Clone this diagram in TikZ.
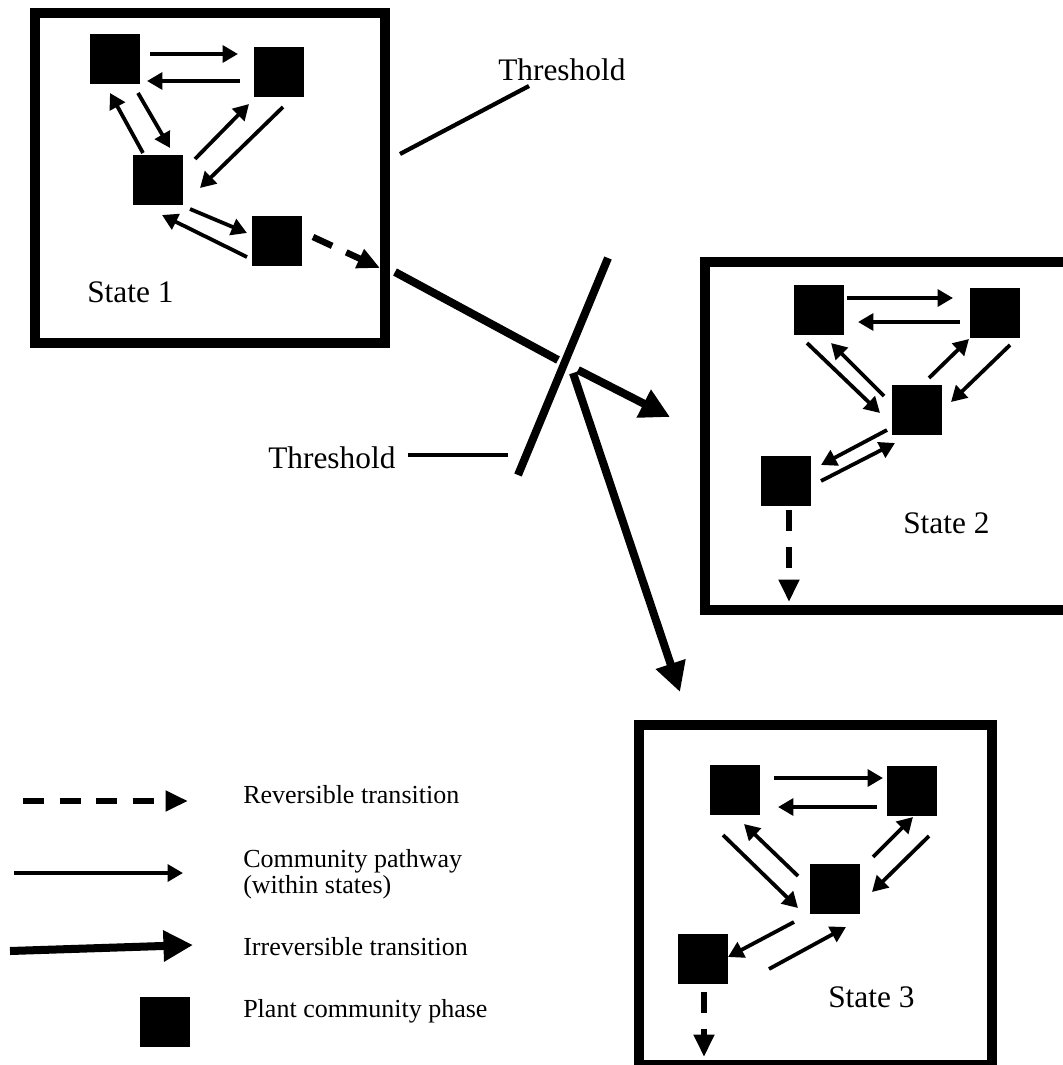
\documentclass[tikz,border=0pt]{standalone}
\usepackage{fontspec}
\setmainfont{Liberation Serif}
\usetikzlibrary{calc,arrows.meta}

\tikzset{
  phase/.style={draw=none,fill=black,minimum size=1.25cm,inner sep=0pt},
  statebox/.style={draw,line width=7.1pt,inner sep=0pt},
  statelabel/.style={inner sep=0pt,anchor=base west,font=\fontsize{22.3}{26}\selectfont},
  legtext/.style={inner sep=0pt,anchor=base west,font=\fontsize{18.5}{22}\selectfont},
  pathway/.style={line width=2.7pt,-{Triangle[length=11pt,width=12pt]}},
  revers/.style={line width=4.6pt,dash pattern=on 15pt off 11pt,-{Triangle[length=16pt,width=14pt]}},
  irrev/.style={line width=5.7pt,-{Triangle[length=21pt,width=21pt]}},
  thline/.style={line width=3pt},
}

\begin{document}
\begin{tikzpicture}[x=0.025cm,y=-0.025cm]
\useasboundingbox (0,0) rectangle (1063,1065);

%% the three state boxes
\node[statebox,minimum width=8.75cm,minimum height=8.25cm] (st1) at (210,178) {};
\node[statebox,minimum width=9.125cm,minimum height=8.7cm] (st2) at (887.5,436) {};
\node[statebox,minimum width=8.825cm,minimum height=8.5cm] (st3) at (815.5,895) {};
\node[statelabel] (lb1) at (87,302) {State 1};
\node[statelabel] (lb2) at (903,533) {State 2};
\node[statelabel] (lb3) at (828,1007) {State 3};

%% plant community phases drawn with a loop
\foreach \n/\x/\y in {a/115/59,b/279/72,c/158/180,d/277/241}{
  \node[phase] (s1\n) at (\x,\y) {};
}
\foreach \n/\x/\y in {a/819/310,b/995/313,c/917/410,d/786/481}{
  \node[phase] (s2\n) at (\x,\y) {};
}
\foreach \n/\x/\y in {a/735/790,b/912/791,c/835/889,d/703/959}{
  \node[phase] (s3\n) at (\x,\y) {};
}

%% pathways in state 1
\draw[pathway] ([shift={(35,-5)}]s1a.center) -- ([shift={(-41,-18)}]s1b.center);
\draw[pathway] ([shift={(-39,9)}]s1b.center) -- ([shift={(32,22)}]s1a.center);
\draw[pathway] ([shift={(-15,-27)}]s1c.center) -- ([shift={(-5,34)}]s1a.center);
\draw[pathway] ([shift={(23,34)}]s1a.center) -- ([shift={(12,-32)}]s1c.center);
\draw[pathway] ([shift={(37,-21)}]s1c.center) -- ([shift={(-30,32)}]s1b.center);
\draw[pathway] ([shift={(4,35)}]s1b.center) -- ([shift={(42,8)}]s1c.center);
\draw[pathway] ([shift={(32,29)}]s1c.center) -- ([shift={(-30,-8)}]s1d.center);
\draw[pathway] ([shift={(-30,16)}]s1d.center) -- ([shift={(4,35)}]s1c.center);

%% pathways in state 2
\draw[pathway] ([shift={(28,-12)}]s2a.center) -- ([shift={(-42,-15)}]s2b.center);
\draw[pathway] ([shift={(-35,9)}]s2b.center) -- ([shift={(39,12)}]s2a.center);
\draw[pathway] ([shift={(-12,33)}]s2a.center) -- ([shift={(-37,3)}]s2c.center);
\draw[pathway] ([shift={(-33,-14)}]s2c.center) -- ([shift={(12,33)}]s2a.center);
\draw[pathway] ([shift={(12,-32)}]s2c.center) -- ([shift={(-26,26)}]s2b.center);
\draw[pathway] ([shift={(15,32)}]s2b.center) -- ([shift={(34,-8)}]s2c.center);
\draw[pathway] ([shift={(-30,20)}]s2c.center) -- ([shift={(35,-16)}]s2d.center);
\draw[pathway] ([shift={(35,0)}]s2d.center) -- ([shift={(-22,33)}]s2c.center);

%% pathways in state 3
\draw[pathway] ([shift={(39,-12)}]s3a.center) -- ([shift={(-29,-13)}]s3b.center);
\draw[pathway] ([shift={(-35,16)}]s3b.center) -- ([shift={(43,17)}]s3a.center);
\draw[pathway] ([shift={(-12,45)}]s3a.center) -- ([shift={(-37,19)}]s3c.center);
\draw[pathway] ([shift={(-37,-13)}]s3c.center) -- ([shift={(9,34)}]s3a.center);
\draw[pathway] ([shift={(38,-32)}]s3c.center) -- ([shift={(1,26)}]s3b.center);
\draw[pathway] ([shift={(17,45)}]s3b.center) -- ([shift={(37,3)}]s3c.center);
\draw[pathway] ([shift={(-41,33)}]s3c.center) -- ([shift={(25,-2)}]s3d.center);
\draw[pathway] ([shift={(66,10)}]s3d.center) -- ([shift={(11,38)}]s3c.center);

%% reversible transitions
\coordinate (s1out) at (380,268);
\coordinate (s2out) at (789,602);
\coordinate (s3out) at (704,1057);
\draw[revers] ([shift={(36,-4)}]s1d.center) -- (s1out);
\draw[revers] ([shift={(3,29)}]s2d.center) -- (s2out);
\draw[revers] ([shift={(1,33)}]s3d.center) -- (s3out);

%% threshold and irreversible transitions
\coordinate (bartop) at (608,258);
\coordinate (barbot) at (518,475);
\draw[line width=5.7pt] (bartop) -- (barbot);
\coordinate (irr1) at (395,272);
\coordinate (irr1end) at (558,360);
\draw[line width=5.7pt] (irr1) -- (irr1end);
\coordinate (irr2) at (578,370);
\coordinate (st2tip) at (670,417);
\draw[irrev] (irr2) -- (st2tip);
\coordinate (irr3) at (573,373);
\coordinate (st3tip) at (680,692);
\draw[irrev] (irr3) -- (st3tip);

%% threshold labels
\node[statelabel] (th1) at (498,80) {Threshold};
\coordinate (th1a) at (400,154);
\draw[thline] (th1a) -- ([shift={(31,6)}]th1.base west);
\node[statelabel] (th2) at (268,468) {Threshold};
\coordinate (th2b) at (508,455);
\draw[thline] ([shift={(12,-13)}]th2.base east) -- (th2b);

%% legend
\coordinate (lg1a) at (23,801);\coordinate (lg1b) at (188,801);
\draw[revers] (lg1a) -- (lg1b);
\coordinate (lg2a) at (14,873);\coordinate (lg2b) at (183,873);
\draw[pathway] (lg2a) -- (lg2b);
\coordinate (lg3a) at (10,951);\coordinate (lg3b) at (193,945);
\draw[irrev] (lg3a) -- (lg3b);
\node[phase] (lg4) at (165,1022) {};
\node[legtext] (lt1) at (243,803) {Reversible transition};
\node[legtext] (lt2) at (243,867) {Community pathway};
\node[legtext] (lt2b) at (243,893) {(within states)};
\node[legtext] (lt3) at (243,955) {Irreversible transition};
\node[legtext] (lt4) at (243,1017) {Plant community phase};
\end{tikzpicture}
\end{document}
